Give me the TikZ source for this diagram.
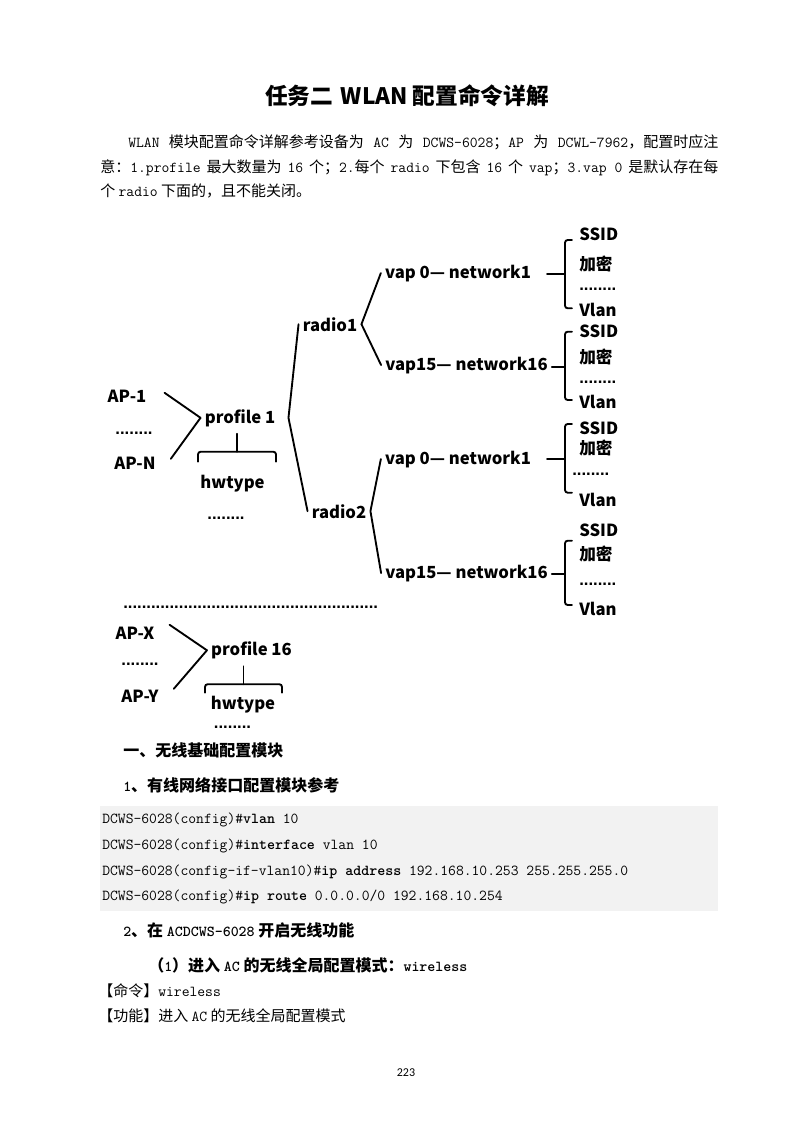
\documentclass[tikz,border=0pt]{standalone}
\usepackage{fontspec}
\setmainfont{Noto Sans CJK SC}
\newfontfamily\pagefont{Carlito}
\newfontfamily\dotfont{Liberation Sans}
\usetikzlibrary{calc}
\definecolor{codebg}{HTML}{F2F2F2}
\newcommand{\ascii}[1]{{\ttfamily\fontsize{11.4}{14}\selectfont #1}}
\newcommand{\asciib}[1]{{\ttfamily\bfseries\fontsize{11.4}{14}\selectfont #1}}

\tikzset{
  lbl/.style={font=\bfseries\fontsize{12.5}{15}\selectfont, inner sep=3pt, anchor=base},
  attr/.style={lbl, anchor=base west},
  dotrow/.style={font=\dotfont\bfseries\fontsize{12.5}{15}\selectfont},
  wire/.style={line width=1.4pt, line cap=round},
  body/.style={font=\fontsize{11.25}{14}\selectfont, inner sep=0pt, anchor=base west},
  heading/.style={body, font=\bfseries\fontsize{12}{14}\selectfont},
  codeline/.style={body, font=\ttfamily\fontsize{11.4}{14}\selectfont},
}

\begin{document}
\begin{tikzpicture}[x=0.75pt,y=-0.75pt]
\useasboundingbox (0,0) rectangle (794,1123);
\fill[white] (0,0) rectangle (794,1123);

\node[font=\bfseries\fontsize{17}{20}\selectfont, anchor=base, inner sep=0pt] (ttl) at (407,104.6) {任务二\hspace{0.35em}WLAN 配置命令详解};

\node[body] (p1) at (128,148) {\hbox to 442.5pt{\ascii{WLAN} 模块配置命令详解参考设备为 \ascii{AC} 为 \ascii{DCWS-6028}；\ascii{AP} 为 \ascii{DCWL-7962}，配置时应注}};
\node[body] (p2) at (100,173) {\hbox to 463.5pt{意：\ascii{1.profile} 最大数量为 \ascii{16} 个；\ascii{2.}每个 \ascii{radio} 下包含 \ascii{16} 个 \ascii{vap}；\ascii{3.vap 0} 是默认存在每}};
\node[body] (p3) at (100,197) {个 \ascii{radio} 下面的，且不能关闭。};

\node[lbl] (ap1) at (127,402) {AP-1};
\node[lbl, dotrow] (apdots1) at (134,434) {........};
\node[lbl] (apn) at (135,469) {AP-N};
\node[lbl] (prof1) at (240,423) {profile 1};
\node[lbl] (hw1) at (232.5,488) {hwtype};
\node[lbl, dotrow] (hwdots1) at (226,519) {........};

\draw[wire] ($(ap1.east)+(14,-3)$) -- (prof1.west);
\draw[wire] ($(apn.east)+(11,-4)$) -- (prof1.west);
\draw[wire] ($(prof1.south)+(-3,3)$) -- ++(0,18) coordinate (k1);
\draw[wire, rounded corners=2pt] ($(k1)+(-39,10)$) |- ($(k1)+(39,0)$) -- ++(0,10);

\node[lbl] (r1) at (330,331) {radio1};
\node[lbl] (r2) at (339,518) {radio2};
\draw[wire] (r1.west) -- ($(prof1.east)+(9,0)$) -- (r2.west);

\node[lbl] (v10) at (458,278) {vap 0— network1};
\node[lbl] (v115) at (466.5,370) {vap15— network16};
\node[lbl] (v20) at (458,464) {vap 0— network1};
\node[lbl] (v215) at (466.5,578) {vap15— network16};
\draw[wire] (v10.west) -- (r1.east) -- (v115.west);
\draw[wire] (v20.west) -- (r2.east) -- (v215.west);

\node[attr] (s11) at (575,240) {SSID};
\node[attr] (s12) at (575,270.6) {加密};
\node[attr, dotrow] (s13) at (575,290.5) {........};
\node[attr] (s14) at (575,316) {Vlan};
\node[attr] (s21) at (575,337) {SSID};
\node[attr] (s22) at (575,363) {加密};
\node[attr, dotrow] (s23) at (575,383.5) {........};
\node[attr] (s24) at (575,408.7) {Vlan};
\node[attr] (s31) at (575,434.3) {SSID};
\node[attr] (s32) at (575,454.6) {加密};
\node[attr, dotrow] (s33) at (568,475) {........};
\node[attr] (s34) at (575,506) {Vlan};
\node[attr] (s41) at (575,536) {SSID};
\node[attr] (s42) at (575,560.3) {加密};
\node[attr, dotrow] (s43) at (575,585) {........};
\node[attr] (s44) at (575,615.3) {Vlan};

\coordinate (g1) at (565,274.3);
\coordinate (g2) at (565,366.7);
\coordinate (g3) at (565,459.3);
\coordinate (g4) at (565,574.3);
\draw[wire] (g1) -- ++(-18,0);
\draw[wire] (v115.east |- g2) -- (g2);
\draw[wire] (g3) -- ++(-18,0);
\draw[wire] (v215.east |- g4) -- (g4);
\draw[wire, rounded corners=2pt] ($(g1)+(7,-34.3)$) -| (g1) |- ($(g1)+(7,34)$);
\draw[wire, rounded corners=2pt] ($(g2)+(7,-35)$) -| (g2) |- ($(g2)+(7,33.3)$);
\draw[wire, rounded corners=2pt] ($(g3)+(7,-35.3)$) -| (g3) |- ($(g3)+(7,33.4)$);
\draw[wire, rounded corners=2pt] ($(g4)+(7,-33.6)$) -| (g4) |- ($(g4)+(7,30.7)$);

\node[attr, dotrow] (sep) at (119,608) {.......................................................};

\node[lbl] (apx) at (135,639) {AP-X};
\node[lbl, dotrow] (apdots2) at (140,665.5) {........};
\node[lbl] (apy) at (140,702) {AP-Y};
\node[lbl] (prof16) at (251.5,655.5) {profile 16};
\node[lbl] (hw16) at (243,709) {hwtype};
\node[lbl, dotrow] (hwdots16) at (232.5,728) {........};

\draw[wire] ($(apx.east)+(11,-8)$) -- (prof16.west);
\draw[wire] ($(apy.east)+(11,-7)$) -- (prof16.west);
\draw[wire] ($(prof16.south)+(-8,3)$) -- ++(0,18) coordinate (k16);
\draw[wire, rounded corners=2pt] ($(k16)+(-38.5,8.5)$) |- ($(k16)+(38.5,0)$) -- ++(0,8.5);

\node[heading] (h1) at (123,756) {一、无线基础配置模块};
\node[heading] (h2) at (123,791) {\asciib{1}、有线网络接口配置模块参考};

\fill[codebg] (100,806) rectangle (718,911);
\node[codeline] (c1) at (102,823) {DCWS-6028(config)\#\textbf{vlan} 10};
\node[codeline] (c2) at (102,849) {DCWS-6028(config)\#\textbf{interface} vlan 10};
\node[codeline] (c3) at (102,875) {DCWS-6028(config-if-vlan10)\#\textbf{ip address} 192.168.10.253 255.255.255.0};
\node[codeline] (c4) at (102,900) {DCWS-6028(config)\#\textbf{ip route} 0.0.0.0/0 192.168.10.254};

\node[heading] (h3) at (123,936) {\asciib{2}、在 \asciib{ACDCWS-6028} 开启无线功能};
\node[heading] (h4) at (148,971) {（\asciib{1}）进入 \asciib{AC} 的无线全局配置模式：\asciib{wireless}};
\node[body] (cmd) at (98,996) {【命令】\ascii{wireless}};
\node[body] (fun) at (98,1021) {【功能】进入 \ascii{AC} 的无线全局配置模式};

\node[font=\pagefont\fontsize{9}{10}\selectfont, anchor=base, inner sep=0pt] (pg) at (406,1076) {223};
\end{tikzpicture}
\end{document}
